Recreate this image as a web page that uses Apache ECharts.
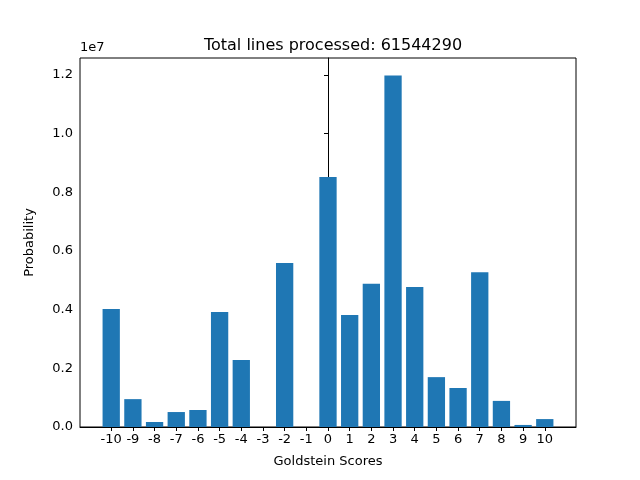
<!DOCTYPE html>
<html lang="en">
<head>
  <meta charset="UTF-8">
  <script src="https://cdn.jsdelivr.net/npm/echarts@6.0.0/dist/echarts.min.js"></script>
  <style>
    body, html { margin: 0; padding: 0; width: 100%; height: 100%; background: #fff; overflow: hidden; }
    #main { width: 640px; height: 480px; }
  </style>
</head>
<body>
  <div id="main"></div>
  <script type="text/javascript">
    // Goldstein scores and bar heights (in units of 1e7)
    var scores = [-10, -9, -8, -7, -6, -5, -4, -3, -2, -1, 0, 1, 2, 3, 4, 5, 6, 7, 8, 9, 10];
    var heights = [0.402, 0.095, 0.017, 0.051, 0.058, 0.392, 0.228, 0, 0.559, 0, 0.852,
                   0.382, 0.488, 1.198, 0.477, 0.170, 0.133, 0.528, 0.089, 0.007, 0.027];
    var yTicks = [0, 0.2, 0.4, 0.6, 0.8, 1.0, 1.2];

    var myChart = echarts.init(document.getElementById('main'));
    var font = 'DejaVu Sans';

    var option = {
      backgroundColor: '#fff',
      animation: false,
      title: {
        text: 'Total lines processed: 61544290',
        left: 328, top: 33, textAlign: 'center',
        textStyle: { fontFamily: font, fontSize: 16, fontWeight: 'normal', color: '#000' }
      },
      graphic: [{
        type: 'text', left: 80, top: 41,
        style: { text: '1e7', font: '13px DejaVu Sans', fill: '#000' }
      }],
      grid: { left: 80, right: 64, top: 58, bottom: 53, show: true, borderColor: '#000', borderWidth: 1 },
      xAxis: {
        type: 'value', min: -11.44, max: 11.44,
        name: 'Goldstein Scores', nameLocation: 'middle', nameGap: 28,
        nameTextStyle: { fontFamily: font, fontSize: 13, color: '#000' },
        splitLine: { show: false },
        axisLine: { show: true, lineStyle: { color: '#000' } },
        axisTick: { show: true, customValues: scores, length: 4, lineStyle: { color: '#000' } },
        axisLabel: { customValues: scores, fontFamily: font, fontSize: 13, color: '#000', margin: 6 }
      },
      yAxis: {
        type: 'value', min: 0, max: 1.258,
        name: 'Probability', nameLocation: 'middle', nameGap: 44, nameRotate: 90,
        nameTextStyle: { fontFamily: font, fontSize: 13, color: '#000' },
        splitLine: { show: false },
        axisLine: { show: true, lineStyle: { color: '#000' } },
        axisTick: { show: true, customValues: yTicks, length: 4, lineStyle: { color: '#000' } },
        axisLabel: {
          customValues: yTicks, fontFamily: font, fontSize: 13, color: '#000', margin: 7,
          formatter: function (v) { return v.toFixed(1); }
        }
      },
      series: [{
        type: 'bar',
        barWidth: 17.3,
        itemStyle: { color: '#1f77b4' },
        data: scores.map(function (s, i) { return [s, heights[i]]; })
      }]
    };

    myChart.setOption(option);
  </script>
</body>
</html>
